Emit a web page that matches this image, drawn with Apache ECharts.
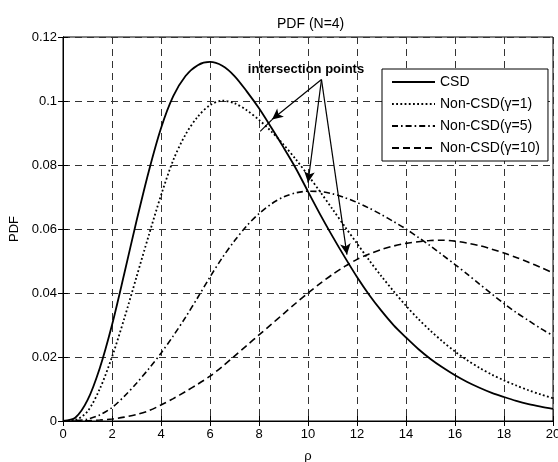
<!DOCTYPE html>
<html>
<head>
<meta charset="utf-8">
<script src="https://cdn.jsdelivr.net/npm/echarts@6/dist/echarts.min.js"></script>
<style>
  html, body { margin: 0; padding: 0; background: #fff; }
  #chart { width: 558px; height: 462px; }
</style>
</head>
<body>
<div id="chart"></div>
<script>
// rho values (step 0.5)
var rho = [0, 0.5, 1, 1.5, 2, 2.5, 3, 3.5, 4, 4.5, 5, 5.5, 6, 6.5, 7, 7.5, 8, 8.5, 9, 9.5, 10,
  10.5, 11, 11.5, 12, 12.5, 13, 13.5, 14, 14.5, 15, 15.5, 16, 16.5, 17, 17.5, 18, 18.5, 19, 19.5, 20];

var csd = [0, 0.001, 0.0065, 0.0165, 0.030, 0.046, 0.0625, 0.078, 0.0915, 0.1015, 0.1078, 0.1112,
  0.1122, 0.1110, 0.1078, 0.1030, 0.0977, 0.0917, 0.0855, 0.0790, 0.0717, 0.0645, 0.0577, 0.0512,
  0.0450, 0.0394, 0.0344, 0.0299, 0.0261, 0.0225, 0.0194, 0.0167, 0.0143, 0.0122, 0.0104, 0.0088,
  0.0075, 0.0063, 0.0053, 0.0045, 0.0038];

var nonCsd1 = [0, 0.0003, 0.003, 0.010, 0.020, 0.032, 0.045, 0.058, 0.0705, 0.0815, 0.0895, 0.0951,
  0.0987, 0.1001, 0.0993, 0.0971, 0.0941, 0.0905, 0.0864, 0.0818, 0.0768, 0.0716, 0.0662, 0.0608,
  0.0555, 0.0502, 0.0452, 0.0405, 0.0360, 0.0319, 0.0282, 0.0248, 0.0217, 0.0190, 0.0166, 0.0145,
  0.0127, 0.0111, 0.0096, 0.0083, 0.0071];

var nonCsd5 = [0, 0.0001, 0.0006, 0.0019, 0.0042, 0.0077, 0.0118, 0.0163, 0.0212, 0.0266, 0.0324,
  0.0386, 0.0450, 0.0510, 0.0563, 0.0610, 0.0648, 0.0678, 0.0700, 0.0713, 0.0718, 0.0717, 0.0710,
  0.0698, 0.0683, 0.0665, 0.0645, 0.0623, 0.0600, 0.0574, 0.0547, 0.0518, 0.0489, 0.0459, 0.0428,
  0.0397, 0.0367, 0.0339, 0.0314, 0.0289, 0.0267];

var nonCsd10 = [0, 0, 0.0001, 0.0003, 0.0006, 0.0012, 0.002, 0.0032, 0.005, 0.007, 0.0092, 0.0115,
  0.0140, 0.0170, 0.0203, 0.0236, 0.0269, 0.0302, 0.0335, 0.0368, 0.0400, 0.0430, 0.0458, 0.0483,
  0.0505, 0.0522, 0.0536, 0.0547, 0.0555, 0.0560, 0.0564, 0.0565, 0.0562, 0.0556, 0.0548, 0.0537,
  0.0525, 0.0511, 0.0496, 0.0480, 0.0463];

var seriesNames = ["CSD", "Non-CSD(\u03b3=1)", "Non-CSD(\u03b3=5)", "Non-CSD(\u03b3=10)"];

// arrow annotation: apex and targets (data coords)
var arrowApex = [10.55, 0.1067];
var arrowTips = [[8.53, 0.0942], [10.0, 0.0745], [11.59, 0.052]];
var arrowTail = [8.05, 0.0905];

var font = "Arial, 'Liberation Sans', sans-serif";

function pairs(vals) {
  return rho.map(function (x, i) { return [x, vals[i]]; });
}

var chartDom = document.getElementById("chart");
var myChart = echarts.init(chartDom);
var option;

var dashGrid = { show: true, lineStyle: { color: "#333", width: 1, type: [7, 5] } };

option = {
  animation: false,
  backgroundColor: "#fff",
  textStyle: { fontFamily: font, color: "#000" },
  title: {
    text: "PDF (N=4)",
    left: 272,
    top: 12,
    textStyle: { fontSize: 14, fontWeight: "normal", color: "#000", fontFamily: font },
  },
  grid: {
    left: 63,
    right: 5,
    top: 37,
    bottom: 41,
    outerBoundsMode: "none",
    containLabel: false,
    show: true,
    borderColor: "#000",
    borderWidth: 1,
  },
  legend: {
    orient: "vertical",
    left: 382,
    top: 69,
    padding: [6, 8, 6, 9],
    itemWidth: 43,
    itemHeight: 14,
    itemGap: 8,
    backgroundColor: "#fff",
    borderColor: "#000",
    borderWidth: 1,
    itemStyle: { color: "transparent", borderColor: "transparent", borderWidth: 0 },
    textStyle: { fontSize: 14, color: "#000", fontFamily: font },
    data: seriesNames,
  },
  xAxis: [
    {
      type: "value",
      min: 0,
      max: 20,
      interval: 2,
      name: "\u03c1",
      nameLocation: "middle",
      nameGap: 29,
      nameTextStyle: { fontSize: 13, color: "#000" },
      axisLine: { show: true, lineStyle: { color: "#000" } },
      axisTick: { show: true, inside: true, length: 5, lineStyle: { color: "#000" } },
      axisLabel: { color: "#000", fontSize: 13, margin: 7 },
      splitLine: dashGrid,
    },
    {
      type: "value",
      position: "top",
      min: 0,
      max: 20,
      interval: 2,
      axisLine: { show: true, lineStyle: { color: "#000" } },
      axisTick: { show: true, inside: true, length: 5, lineStyle: { color: "#000" } },
      axisLabel: { show: false },
      splitLine: { show: false },
    },
  ],
  yAxis: [
    {
      type: "value",
      min: 0,
      max: 0.12,
      interval: 0.02,
      name: "PDF",
      nameLocation: "middle",
      nameGap: 38,
      nameTextStyle: { fontSize: 13, color: "#000" },
      axisLine: { show: true, lineStyle: { color: "#000" } },
      axisTick: { show: true, inside: true, length: 5, lineStyle: { color: "#000" } },
      axisLabel: { color: "#000", fontSize: 13, margin: 6 },
      splitLine: dashGrid,
    },
    {
      type: "value",
      position: "right",
      min: 0,
      max: 0.12,
      interval: 0.02,
      axisLine: { show: true, lineStyle: { color: "#000" } },
      axisTick: { show: true, inside: true, length: 5, lineStyle: { color: "#000" } },
      axisLabel: { show: false },
      splitLine: { show: false },
    },
  ],
  graphic: [
    {
      type: "text",
      x: 306,
      y: 69,
      z: 100,
      style: {
        text: "intersection points",
        font: "bold 13px " + font,
        fill: "#000",
        align: "center",
        verticalAlign: "middle",
      },
    },
  ],
  series: [
    {
      name: seriesNames[0],
      type: "line",
      symbol: "none",
      smooth: 0.3,
      data: pairs(csd),
      lineStyle: { color: "#000", width: 1.8, type: "solid" },
      itemStyle: { color: "#000" },
      markLine: {
        silent: true,
        symbol: ["none", "arrow"],
        symbolSize: [8, 11],
        label: { show: false },
        lineStyle: { color: "#000", width: 1.2, type: "solid" },
        data: arrowTips.map(function (t) {
          return [{ coord: arrowApex }, { coord: t }];
        }).concat([[{ coord: arrowTips[0], symbol: "none" }, { coord: arrowTail, symbol: "none" }]]),
      },
    },
    {
      name: seriesNames[1],
      type: "line",
      symbol: "none",
      smooth: 0.3,
      data: pairs(nonCsd1),
      lineStyle: { color: "#000", width: 1.8, type: [1.8, 2.4] },
      itemStyle: { color: "#000" },
    },
    {
      name: seriesNames[2],
      type: "line",
      symbol: "none",
      smooth: 0.3,
      data: pairs(nonCsd5),
      lineStyle: { color: "#000", width: 1.6, type: [6, 3, 1.6, 3] },
      itemStyle: { color: "#000" },
    },
    {
      name: seriesNames[3],
      type: "line",
      symbol: "none",
      smooth: 0.3,
      data: pairs(nonCsd10),
      lineStyle: { color: "#000", width: 1.6, type: [7, 4] },
      itemStyle: { color: "#000" },
    },
  ],
};

option && myChart.setOption(option);
</script>
</body>
</html>
